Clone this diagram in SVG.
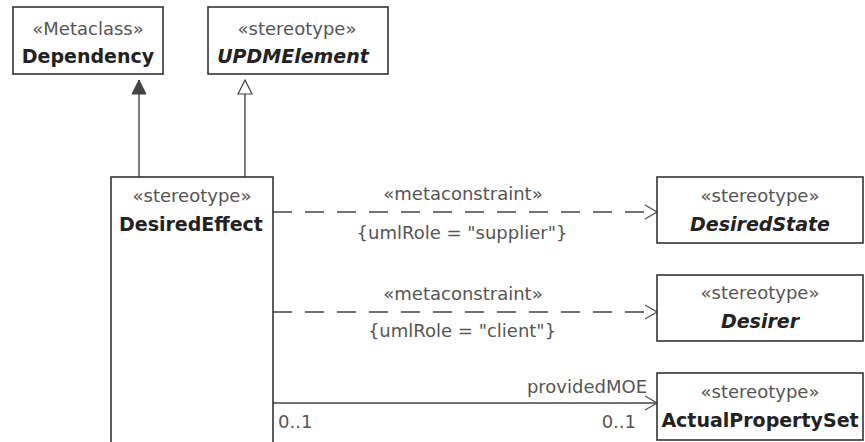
<svg xmlns="http://www.w3.org/2000/svg" width="865" height="442" viewBox="0 0 865 442">
<style>
.box{fill:#fff;stroke:#333;stroke-width:1.6}
.st{font-family:"DejaVu Sans",Verdana,sans-serif;font-size:18px;fill:#555;text-anchor:middle}
.nm{font-family:"DejaVu Sans",Verdana,sans-serif;font-size:19px;font-weight:bold;fill:#222;text-anchor:middle}
.it{font-style:italic}
.lbl{font-family:"DejaVu Sans",Verdana,sans-serif;font-size:18px;fill:#555}
.ln{fill:none;stroke:#444;stroke-width:1.4}
.dash{stroke-dasharray:19 13}
</style>
<defs>
<marker id="open" markerWidth="14" markerHeight="16" refX="13" refY="8" orient="auto" markerUnits="userSpaceOnUse">
<path d="M1,1 L13,8 L1,15" fill="none" stroke="#555" stroke-width="1.4"/>
</marker>
<marker id="filled" markerWidth="16" markerHeight="16" refX="15" refY="8" orient="auto" markerUnits="userSpaceOnUse">
<path d="M1,1 L15,8 L1,15 Z" fill="#444" stroke="#444" stroke-width="1"/>
</marker>
<marker id="hollow" markerWidth="16" markerHeight="16" refX="15" refY="8" orient="auto" markerUnits="userSpaceOnUse">
<path d="M1,1 L15,8 L1,15 Z" fill="#fff" stroke="#444" stroke-width="1.2"/>
</marker>
</defs>
<g id="connectors">
<line class="ln" x1="139" y1="177" x2="139" y2="80" marker-end="url(#filled)"/>
<line class="ln" x1="245" y1="177" x2="245" y2="80" marker-end="url(#hollow)"/>
<line class="ln dash" x1="273" y1="212" x2="657" y2="212" marker-end="url(#open)"/>
<text class="lbl" x="463" y="200" text-anchor="middle">«metaconstraint»</text>
<text class="lbl" x="462" y="239" text-anchor="middle">{umlRole = "supplier"}</text>
<line class="ln dash" x1="273" y1="312" x2="657" y2="312" marker-end="url(#open)"/>
<text class="lbl" x="463" y="300" text-anchor="middle">«metaconstraint»</text>
<text class="lbl" x="462" y="337" text-anchor="middle">{umlRole = "client"}</text>
<line class="ln" x1="273" y1="403" x2="657" y2="403" marker-end="url(#open)"/>
<text class="lbl" x="647" y="393" text-anchor="end">providedMOE</text>
<text class="lbl" x="278" y="428">0..1</text>
<text class="lbl" x="636" y="428" text-anchor="end">0..1</text>
</g>
<g id="Dependency">
<rect class="box" x="13" y="7" width="150" height="67"/>
<text class="st" x="88" y="35">«Metaclass»</text>
<text class="nm" x="88" y="63">Dependency</text>
</g>
<g id="UPDMElement">
<rect class="box" x="208" y="7" width="180" height="67"/>
<text class="st" x="297" y="35">«stereotype»</text>
<text class="nm it" x="293" y="63">UPDMElement</text>
</g>
<g id="DesiredEffect">
<rect class="box" x="111" y="177" width="162" height="280"/>
<text class="st" x="192" y="202">«stereotype»</text>
<text class="nm" x="191" y="231">DesiredEffect</text>
</g>
<g id="DesiredState">
<rect class="box" x="657" y="177" width="206" height="66"/>
<text class="st" x="760" y="202">«stereotype»</text>
<text class="nm it" x="760" y="231">DesiredState</text>
</g>
<g id="Desirer">
<rect class="box" x="657" y="275" width="206" height="66"/>
<text class="st" x="760" y="299">«stereotype»</text>
<text class="nm it" x="760" y="328">Desirer</text>
</g>
<g id="ActualPropertySet">
<rect class="box" x="657" y="373" width="206" height="67"/>
<text class="st" x="760" y="398">«stereotype»</text>
<text class="nm" x="760" y="427">ActualPropertySet</text>
</g>
</svg>
